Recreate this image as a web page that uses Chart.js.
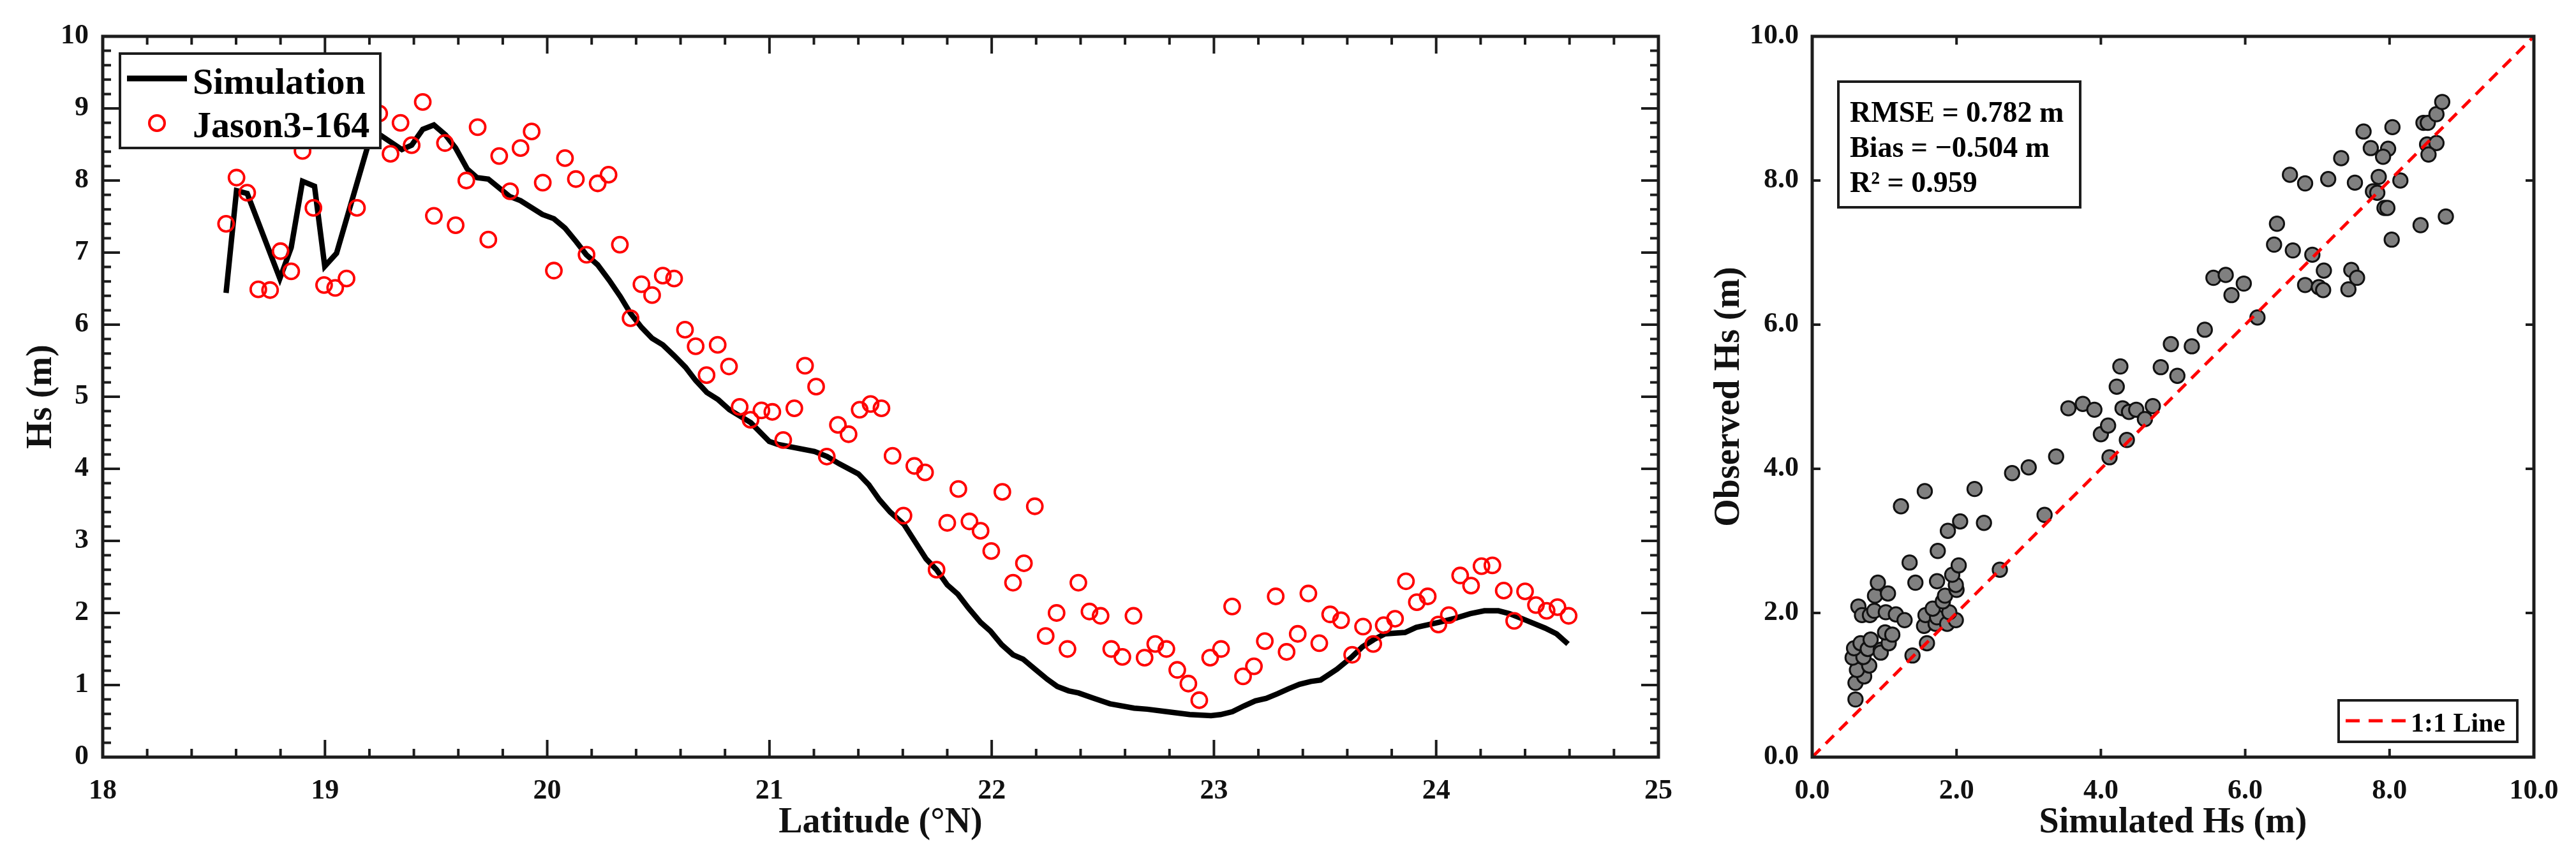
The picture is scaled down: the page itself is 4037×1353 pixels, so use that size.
<!DOCTYPE html>
<html>
<head>
<meta charset="utf-8">
<title>Hs along track and scatter</title>
<script src="https://cdn.jsdelivr.net/npm/chart.js@4.4.1/dist/chart.umd.min.js"></script>
<style>
  html, body { margin: 0; padding: 0; background: #fff; }
  #wrap { position: relative; width: 4037px; height: 1353px; overflow: hidden; }
  .panel { position: absolute; top: 0; height: 1353px; }
  #left { left: 0; width: 2640px; }
  #right { left: 2640px; width: 1397px; }
</style>
</head>
<body>
<div id="wrap">
  <div class="panel" id="left"><canvas id="lineChart"></canvas></div>
  <div class="panel" id="right"><canvas id="scatterChart"></canvas></div>
</div>
<script>
// ---- data ----

// simulated Hs along the track
const simLat = [18.555, 18.602, 18.650, 18.797, 18.848, 18.899, 18.953, 18.999, 19.052, 19.140,
  19.190, 19.244, 19.346, 19.390, 19.440, 19.490, 19.543, 19.588, 19.640, 19.684,
  19.735, 19.830, 19.880, 19.978, 20.030, 20.080, 20.131, 20.176, 20.227, 20.278,
  20.329, 20.374, 20.425, 20.472, 20.520, 20.571, 20.622, 20.667, 20.718, 20.769,
  20.820, 20.916, 20.999, 21.037, 21.203, 21.260, 21.314, 21.400, 21.447, 21.495,
  21.543, 21.605, 21.657, 21.705, 21.752, 21.800, 21.848, 21.895, 21.950, 21.994,
  22.045, 22.096, 22.141, 22.199, 22.250, 22.295, 22.346, 22.391, 22.455, 22.532,
  22.641, 22.700, 22.788, 22.891, 22.987, 23.030, 23.083, 23.135, 23.186, 23.235,
  23.286, 23.337, 23.385, 23.436, 23.480, 23.554, 23.617, 23.668, 23.719, 23.770,
  23.860, 23.910, 24.013, 24.090, 24.153, 24.217, 24.280, 24.330, 24.395, 24.490,
  24.542, 24.593];
const simHs = [6.44, 7.86, 7.82, 6.64, 7.07, 7.99, 7.92, 6.81, 6.99, 7.92,
  8.45, 8.64, 8.43, 8.49, 8.71, 8.77, 8.63, 8.45, 8.16, 8.04,
  8.02, 7.78, 7.72, 7.53, 7.47, 7.34, 7.15, 6.97, 6.83, 6.62,
  6.39, 6.16, 5.96, 5.81, 5.72, 5.57, 5.41, 5.23, 5.06, 4.96,
  4.82, 4.64, 4.38, 4.34, 4.24, 4.17, 4.07, 3.93, 3.78, 3.57,
  3.40, 3.23, 2.98, 2.75, 2.60, 2.39, 2.26, 2.07, 1.87, 1.75,
  1.56, 1.42, 1.36, 1.21, 1.08, 0.98, 0.92, 0.89, 0.82, 0.74,
  0.68, 0.665, 0.63, 0.59, 0.575, 0.59, 0.63, 0.71, 0.78, 0.815,
  0.88, 0.95, 1.01, 1.05, 1.07, 1.22, 1.38, 1.53, 1.63, 1.71,
  1.73, 1.80, 1.87, 1.93, 1.99, 2.03, 2.03, 1.99, 1.91, 1.79,
  1.71, 1.57];

// Jason3-164 altimeter Hs
const obsLat = [18.555, 18.602, 18.650, 18.700, 18.753, 18.800, 18.848, 18.899, 18.948, 18.996,
  19.046, 19.097, 19.144, 19.193, 19.244, 19.295, 19.340, 19.390, 19.440, 19.490,
  19.540, 19.588, 19.636, 19.687, 19.735, 19.784, 19.833, 19.880, 19.930, 19.980,
  20.030, 20.080, 20.129, 20.177, 20.227, 20.276, 20.327, 20.375, 20.424, 20.472,
  20.520, 20.571, 20.620, 20.668, 20.717, 20.767, 20.818, 20.866, 20.915, 20.964,
  21.013, 21.062, 21.112, 21.160, 21.210, 21.258, 21.308, 21.356, 21.406, 21.455,
  21.504, 21.554, 21.603, 21.652, 21.700, 21.752, 21.800, 21.850, 21.900, 21.950,
  21.998, 22.048, 22.096, 22.145, 22.194, 22.243, 22.292, 22.341, 22.390, 22.440,
  22.490, 22.538, 22.588, 22.638, 22.688, 22.736, 22.786, 22.835, 22.885, 22.934,
  22.983, 23.032, 23.082, 23.131, 23.180, 23.229, 23.278, 23.327, 23.377, 23.425,
  23.474, 23.523, 23.572, 23.622, 23.671, 23.717, 23.764, 23.815, 23.864, 23.913,
  23.962, 24.010, 24.057, 24.108, 24.157, 24.204, 24.253, 24.304, 24.351, 24.400,
  24.449, 24.497, 24.546, 24.596];
const obsHs = [7.40, 8.04, 7.83, 6.49, 6.48, 7.02, 6.74, 8.41, 7.62, 6.55,
  6.51, 6.64, 7.62, 8.90, 8.93, 8.37, 8.80, 8.49, 9.09, 7.51,
  8.52, 7.38, 8.00, 8.74, 7.18, 8.34, 7.85, 8.45, 8.68, 7.97,
  6.75, 8.31, 8.02, 6.97, 7.96, 8.08, 7.11, 6.09, 6.56, 6.41,
  6.68, 6.64, 5.93, 5.70, 5.30, 5.72, 5.42, 4.86, 4.68, 4.81,
  4.79, 4.40, 4.84, 5.43, 5.14, 4.17, 4.61, 4.48, 4.82, 4.90,
  4.84, 4.18, 3.35, 4.04, 3.95, 2.60, 3.25, 3.72, 3.27, 3.14,
  2.86, 3.68, 2.42, 2.69, 3.48, 1.68, 2.00, 1.50, 2.42, 2.02,
  1.96, 1.50, 1.39, 1.96, 1.38, 1.57, 1.50, 1.21, 1.02, 0.79,
  1.38, 1.50, 2.09, 1.12, 1.26, 1.61, 2.23, 1.46, 1.71, 2.27,
  1.58, 1.98, 1.90, 1.42, 1.81, 1.57, 1.83, 1.92, 2.44, 2.15,
  2.23, 1.84, 1.97, 2.52, 2.38, 2.65, 2.66, 2.31, 1.89, 2.30,
  2.11, 2.03, 2.08, 1.96];

// scatter panel: simulated vs observed
const scatterSim = [0.60, 0.60, 0.72, 0.62, 0.79, 0.56, 0.71, 0.58, 0.67, 0.77,
  0.81, 0.95, 0.95, 1.06, 1.01, 1.11, 1.39, 1.59, 1.55, 0.64,
  0.69, 0.80, 0.86, 1.02, 1.16, 1.28, 0.87, 1.05, 0.91, 1.35,
  1.43, 1.57, 1.71, 1.73, 1.67, 1.87, 1.99, 1.90, 1.81, 1.84,
  2.00, 1.99, 1.73, 1.94, 2.03, 1.74, 1.23, 1.56, 2.25, 1.88,
  2.05, 2.38, 2.60, 3.22, 2.77, 3.00, 3.38, 4.12, 4.36, 4.00,
  4.10, 3.55, 3.75, 3.91, 4.30, 4.39, 4.49, 4.61, 4.72, 4.22,
  4.27, 4.83, 5.06, 4.97, 5.26, 5.44, 6.17, 5.56, 5.73, 5.98,
  5.81, 6.83, 7.02, 7.08, 7.09, 7.43, 7.47, 7.55, 6.44, 6.40,
  6.66, 6.93, 8.03, 8.43, 8.78, 6.62, 6.83, 7.15, 7.52, 7.85,
  7.77, 7.83, 7.93, 7.97, 8.15, 7.33, 7.74, 7.98, 7.91, 7.64,
  8.04, 8.47, 8.53, 8.65, 8.73, 8.52, 8.65, 8.54];
const scatterObs = [0.80, 1.03, 1.12, 1.21, 1.27, 1.38, 1.39, 1.51, 1.58, 1.50,
  1.63, 1.49, 1.45, 1.58, 1.73, 1.70, 1.41, 1.58, 1.82, 2.09,
  1.97, 1.97, 2.03, 2.01, 1.98, 1.90, 2.24, 2.27, 2.42, 2.70,
  2.42, 1.97, 1.85, 1.94, 2.06, 1.85, 1.90, 2.01, 2.16, 2.24,
  2.32, 2.39, 2.44, 2.53, 2.66, 2.86, 3.48, 3.69, 3.72, 3.14,
  3.27, 3.25, 2.60, 3.36, 3.94, 4.02, 4.17, 4.16, 4.40, 4.48,
  4.60, 4.84, 4.90, 4.82, 4.84, 4.79, 4.82, 4.69, 4.87, 5.14,
  5.42, 5.41, 5.29, 5.73, 5.70, 5.93, 6.10, 6.65, 6.69, 6.57,
  6.41, 6.55, 6.52, 6.48, 6.75, 6.49, 6.76, 6.65, 7.40, 7.11,
  7.03, 6.97, 7.18, 7.38, 7.50, 8.08, 7.96, 8.02, 7.97, 8.05,
  7.85, 7.83, 7.62, 7.62, 8.00, 8.31, 8.45, 8.44, 8.33, 8.68,
  8.74, 8.80, 8.80, 8.92, 9.09, 8.50, 8.52, 8.36];

const oneToOne = [0, 10];
const statsLines = ['RMSE = 0.782 m', 'Bias = \u22120.504 m', 'R\u00B2 = 0.959'];

// ---- styling ----
const FONT = '"Liberation Serif", "Times New Roman", serif';
const INK = '#1c1c1c';
Chart.defaults.font.family = FONT;
Chart.defaults.font.weight = 'bold';
Chart.defaults.color = '#111';

const toPoints = (xs, ys) => xs.map((x, i) => ({ x: x, y: ys[i] }));
const onStep = (v, step) => Math.abs(v / step - Math.round(v / step)) < 1e-6;

// box frame with inward ticks on all four sides
const frameTicks = {
  id: 'frameTicks',
  afterDatasetsDraw(chart, args, opts) {
    const { ctx, chartArea: a } = chart;
    const xs = chart.scales.x, ys = chart.scales.y;
    ctx.save();
    ctx.strokeStyle = INK;
    ctx.lineWidth = 4;
    ctx.beginPath();
    xs.ticks.forEach(t => {
      const px = xs.getPixelForValue(t.value);
      const len = onStep(t.value, opts.xMajor) ? opts.majorLen : opts.minorLen;
      ctx.moveTo(px, a.bottom); ctx.lineTo(px, a.bottom - len);
      ctx.moveTo(px, a.top); ctx.lineTo(px, a.top + len);
    });
    ys.ticks.forEach(t => {
      const py = ys.getPixelForValue(t.value);
      const len = onStep(t.value, opts.yMajor) ? opts.majorLen : opts.minorLen;
      ctx.moveTo(a.left, py); ctx.lineTo(a.left + len, py);
      ctx.moveTo(a.right, py); ctx.lineTo(a.right - len, py);
    });
    ctx.stroke();
    ctx.lineWidth = 5;
    ctx.strokeRect(a.left, a.top, a.right - a.left, a.bottom - a.top);
    ctx.restore();
  }
};

function box(ctx, x, y, w, h) {
  ctx.fillStyle = '#fff';
  ctx.fillRect(x, y, w, h);
  ctx.strokeStyle = INK;
  ctx.lineWidth = 4;
  ctx.strokeRect(x, y, w, h);
}

// legend of the along-track panel (drawn over the data, like the original)
const trackLegend = {
  id: 'trackLegend',
  afterDatasetsDraw(chart) {
    const ctx = chart.ctx;
    ctx.save();
    box(ctx, 188, 84, 408, 148);
    ctx.strokeStyle = '#000';
    ctx.lineWidth = 9;
    ctx.beginPath(); ctx.moveTo(199, 123); ctx.lineTo(293, 123); ctx.stroke();
    ctx.strokeStyle = '#ff0000';
    ctx.lineWidth = 4;
    ctx.beginPath(); ctx.arc(246, 193, 12, 0, Math.PI * 2); ctx.stroke();
    ctx.fillStyle = '#000';
    ctx.font = 'bold 58px ' + FONT;
    ctx.textBaseline = 'alphabetic';
    ctx.fillText(chart.data.datasets[1].label, 302, 147);
    ctx.fillText(chart.data.datasets[0].label, 302, 215);
    ctx.restore();
  }
};

// stats box and 1:1 legend of the scatter panel
const scatterNotes = {
  id: 'scatterNotes',
  afterDatasetsDraw(chart) {
    const ctx = chart.ctx;
    const ox = -2640; // canvas starts at page x 2640
    ctx.save();
    box(ctx, 2881 + ox, 128, 379, 197);
    ctx.fillStyle = '#000';
    ctx.font = 'bold 46px ' + FONT;
    statsLines.forEach((s, i) => ctx.fillText(s, 2899 + ox, 191 + i * 55));

    box(ctx, 3665 + ox, 1098, 280, 65);
    ctx.strokeStyle = '#ff0000';
    ctx.lineWidth = 5;
    ctx.setLineDash([22, 14]);
    ctx.beginPath(); ctx.moveTo(3676 + ox, 1130); ctx.lineTo(3770 + ox, 1130); ctx.stroke();
    ctx.setLineDash([]);
    ctx.fillStyle = '#000';
    ctx.font = 'bold 42px ' + FONT;
    ctx.fillText(chart.data.datasets[0].label, 3778 + ox, 1147);
    ctx.restore();
  }
};

const tickFont = { size: 44, weight: 'bold' };
const titleFont = { size: 56, weight: 'bold' };

// ---- along-track chart ----
new Chart(document.getElementById('lineChart'), {
  type: 'scatter',
  data: {
    datasets: [{
      label: 'Jason3-164',
      data: toPoints(obsLat, obsHs),
      showLine: false,
      pointStyle: 'circle',
      pointRadius: 12,
      pointBorderWidth: 3.8,
      borderColor: '#ff0000',
      backgroundColor: 'rgba(0,0,0,0)',
      order: 1
    }, {
      label: 'Simulation',
      data: toPoints(simLat, simHs),
      showLine: true,
      borderColor: '#000',
      borderWidth: 8.5,
      pointRadius: 0,
      tension: 0,
      order: 2
    }]
  },
  options: {
    responsive: true,
    maintainAspectRatio: false,
    animation: false,
    devicePixelRatio: 1,
    layout: { padding: { top: 57, right: 29, bottom: 0, left: 0 } },
    plugins: {
      legend: { display: false },
      tooltip: { enabled: false },
      frameTicks: { xMajor: 1, yMajor: 1, majorLen: 27, minorLen: 13 }
    },
    scales: {
      x: {
        type: 'linear',
        min: 18, max: 25,
        grid: { display: false },
        border: { display: false },
        ticks: {
          stepSize: 0.2, autoSkip: false, maxRotation: 0, padding: 19,
          font: tickFont,
          callback: v => onStep(v, 1) ? String(Math.round(v)) : ''
        },
        title: { display: true, text: 'Latitude (\u00B0N)', font: titleFont, color: '#111',
                 padding: { top: 0, bottom: 29 } },
        afterFit: s => { s.height = 166; }
      },
      y: {
        min: 0, max: 10,
        grid: { display: false },
        border: { display: false },
        ticks: {
          stepSize: 0.2, autoSkip: false, padding: 14,
          font: tickFont,
          callback: v => onStep(v, 1) ? String(Math.round(v)) : ''
        },
        title: { display: true, text: 'Hs (m)', font: titleFont, color: '#111',
                 padding: { top: 32, bottom: 0 } },
        afterFit: s => { s.width = 161; }
      }
    }
  },
  plugins: [frameTicks, trackLegend]
});

// ---- scatter chart ----
new Chart(document.getElementById('scatterChart'), {
  type: 'scatter',
  data: {
    datasets: [{
      label: '1:1 Line',
      data: toPoints(oneToOne, oneToOne),
      showLine: true,
      borderColor: '#ff0000',
      borderWidth: 5,
      borderDash: [18, 12],
      pointRadius: 0,
      order: 1
    }, {
      label: 'Hs pairs',
      data: toPoints(scatterSim, scatterObs),
      pointRadius: 11.2,
      pointBorderWidth: 3,
      borderColor: '#111',
      backgroundColor: '#808080',
      order: 2
    }]
  },
  options: {
    responsive: true,
    maintainAspectRatio: false,
    animation: false,
    devicePixelRatio: 1,
    layout: { padding: { top: 57, right: 66, bottom: 0, left: 0 } },
    plugins: {
      legend: { display: false },
      tooltip: { enabled: false },
      frameTicks: { xMajor: 2, yMajor: 2, majorLen: 13, minorLen: 13 }
    },
    scales: {
      x: {
        type: 'linear',
        min: 0, max: 10,
        grid: { display: false },
        border: { display: false },
        ticks: { stepSize: 2, maxRotation: 0, padding: 19, font: tickFont,
                 callback: v => v.toFixed(1) },
        title: { display: true, text: 'Simulated Hs (m)', font: titleFont, color: '#111',
                 padding: { top: 0, bottom: 29 } },
        afterFit: s => { s.height = 166; }
      },
      y: {
        min: 0, max: 10,
        grid: { display: false },
        border: { display: false },
        ticks: { stepSize: 2, padding: 13, font: tickFont,
                 callback: v => v.toFixed(1) },
        title: { display: true, text: 'Observed Hs (m)', font: titleFont, color: '#111',
                 padding: { top: 37, bottom: 0 } },
        afterFit: s => { s.width = 200; }
      }
    }
  },
  plugins: [frameTicks, scatterNotes]
});
</script>
</body>
</html>
